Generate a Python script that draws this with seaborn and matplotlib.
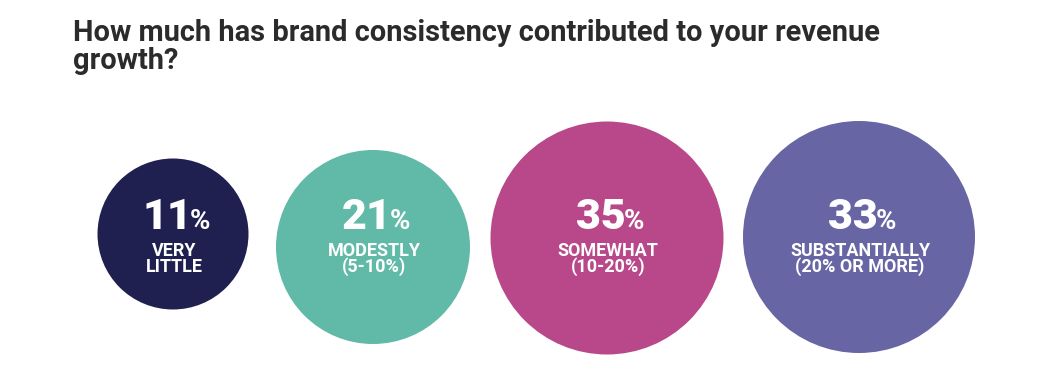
import numpy as np
import pandas as pd
import seaborn as sns
import matplotlib.pyplot as plt

# data
answers = ['VERY\nLITTLE', 'MODESTLY\n(5-10%)', 'SOMEWHAT\n(10-20%)', 'SUBSTANTIALLY\n(20% OR MORE)']
shares = [11, 21, 35, 33]
colours = ['#1f2050', '#61b9a7', '#b9488a', '#6865a5']
title = 'How much has brand consistency contributed to your revenue\ngrowth?'

# layout, in pixels
centre_x = [173, 373, 607, 859]
centre_y = [234, 247, 238, 237]
radius = [75.5, 97, 116.5, 116]
W, H, DPI = 1062, 390, 100

sns.set_theme(style='white')
plt.rcParams['font.family'] = ['Roboto', 'DejaVu Sans']

df = pd.DataFrame({'answer': answers, 'share': shares, 'x': centre_x, 'y': centre_y})

# marker area in pt^2 so that each circle gets its radius in pixels
area = (2 * np.array(radius) * 72 / DPI) ** 2
size_map = dict(zip(df['share'], area))

fig = plt.figure(figsize=(W / DPI, H / DPI), dpi=DPI)
ax = fig.add_axes([0, 0, 1, 1])
sns.scatterplot(data=df, x='x', y='y', hue='answer', size='share',
                palette=dict(zip(answers, colours)), sizes=size_map,
                linewidth=0, alpha=1, legend=False, ax=ax)
ax.set_xlim(0, W)
ax.set_ylim(H, 0)
ax.axis('off')

for cx, v, lab in zip(centre_x, shares, answers):
    num = ax.text(cx - 6, 229, str(v), ha='center', va='baseline',
                  color='white', fontsize=31, fontweight='black')
    ax.annotate('%', xy=(1, 0), xycoords=num, xytext=(-1.5, 2.5),
                textcoords='offset points', ha='left', va='bottom',
                color='white', fontsize=20, fontweight='bold')
    ax.text(cx + 1, 242, lab, ha='center', va='top', color='white',
            fontsize=13, fontweight='bold', linespacing=0.83)

ax.text(73, 69, title, ha='left', va='baseline', color='#2b2b2b',
        fontsize=20.9, fontweight='bold', linespacing=1.0)

fig.savefig('out.png', dpi=DPI)
